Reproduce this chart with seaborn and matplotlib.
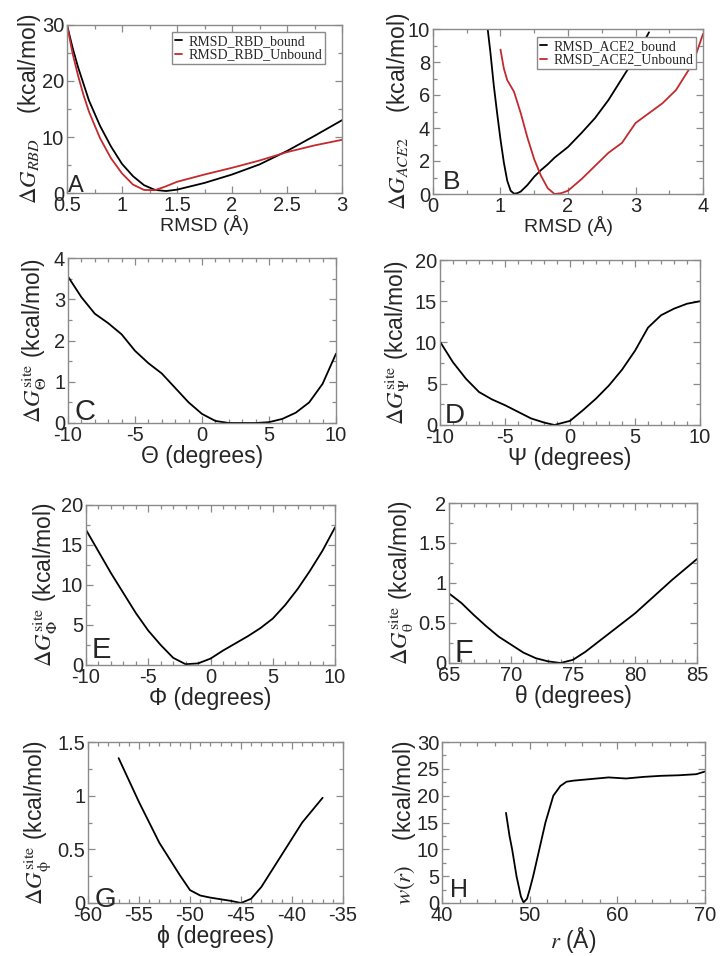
import numpy as np
import pandas as pd
import matplotlib
matplotlib.use("Agg")
import matplotlib.pyplot as plt
import seaborn as sns
from matplotlib.ticker import MultipleLocator, FormatStrFormatter

sns.set_style("ticks")
plt.rcParams['font.family'] = ['Liberation Sans', 'DejaVu Sans']
plt.rcParams['mathtext.fontset'] = 'stix'
plt.rcParams['axes.unicode_minus'] = False

# ---------------- data ----------------
a_x_bound = [0.5, 0.55, 0.6, 0.65, 0.7, 0.8, 0.9, 1.0, 1.1, 1.2, 1.3, 1.4, 1.5, 1.75, 2.0, 2.25, 2.5, 2.75, 3.0]
a_bound = [30, 26, 22.5, 19.5, 16.5, 12, 8.3, 5.2, 3.0, 1.4, 0.55, 0.35, 0.6, 1.8, 3.3, 5.1, 7.5, 10.2, 13]
a_x_unbound = [0.5, 0.55, 0.6, 0.65, 0.7, 0.8, 0.9, 1.0, 1.1, 1.2, 1.3, 1.4, 1.5, 1.75, 2.0, 2.25, 2.5, 2.75, 3.0]
a_unbound = [30, 25, 21, 17.5, 14.5, 9.8, 6.2, 3.5, 1.5, 0.55, 0.5, 1.2, 2.0, 3.3, 4.5, 5.8, 7.3, 8.5, 9.5]

b_x_bound = [0.81, 0.85, 0.9, 0.95, 1.0, 1.05, 1.1, 1.15, 1.2, 1.25, 1.3, 1.4, 1.5, 1.6, 1.7, 1.8, 2.0, 2.2, 2.4, 2.6, 2.8, 3.0, 3.2]
b_bound = [10, 8.6, 6.6, 4.9, 3.3, 1.9, 0.8, 0.2, 0.02, 0.05, 0.15, 0.55, 1.05, 1.45, 1.8, 2.2, 2.85, 3.7, 4.6, 5.7, 7.0, 8.3, 9.8]
b_x_unbound = [1.0, 1.05, 1.1, 1.2, 1.3, 1.4, 1.5, 1.6, 1.7, 1.8, 1.9, 2.0, 2.2, 2.4, 2.6, 2.8, 3.0, 3.2, 3.4, 3.6, 3.8, 3.9, 4.0]
b_unbound = [8.75, 7.6, 6.9, 6.2, 4.9, 3.4, 2.1, 1.1, 0.35, 0.0, 0.05, 0.2, 0.9, 1.7, 2.5, 3.1, 4.3, 4.9, 5.5, 6.3, 7.6, 8.5, 9.7]

c_x = [-10, -9, -8, -7, -6, -5, -4, -3, -2, -1, 0, 1, 2, 3, 4, 5, 6, 7, 8, 9, 10]
c_y = [3.55, 3.05, 2.65, 2.42, 2.15, 1.75, 1.45, 1.2, 0.85, 0.5, 0.22, 0.05, 0.0, 0.0, 0.0, 0.02, 0.1, 0.25, 0.5, 0.95, 1.68]

d_x = [-10, -9, -8, -7, -6, -5, -4, -3, -2, -1.2, 0, 1, 2, 3, 4, 5, 6, 7, 8, 9, 10]
d_y = [10.1, 7.6, 5.6, 4.0, 3.1, 2.4, 1.6, 0.8, 0.3, 0.0, 0.5, 1.8, 3.2, 4.8, 6.7, 9.0, 11.8, 13.3, 14.1, 14.7, 15.0]

e_x = [-10, -9, -8, -7, -6, -5, -4, -3, -2, -1, 0, 1, 2, 3, 4, 5, 6, 7, 8, 9, 10]
e_y = [16.9, 14.2, 11.5, 9.0, 6.5, 4.3, 2.5, 0.9, 0.1, 0.2, 0.8, 1.8, 2.7, 3.6, 4.6, 5.8, 7.5, 9.5, 11.8, 14.3, 17.2]

f_x = [65, 66, 67, 68, 69, 70, 71, 72, 73, 74, 75, 76, 77, 78, 79, 80, 81, 82, 83, 84, 85]
f_y = [0.87, 0.75, 0.6, 0.46, 0.33, 0.23, 0.13, 0.06, 0.02, 0.0, 0.04, 0.14, 0.26, 0.38, 0.5, 0.62, 0.76, 0.9, 1.04, 1.17, 1.3]

g_x = [-57, -55, -53, -51, -50, -49, -48, -46, -45, -44, -43, -42, -41, -40, -39, -37]
g_y = [1.35, 0.94, 0.56, 0.26, 0.12, 0.07, 0.05, 0.02, 0.0, 0.04, 0.15, 0.3, 0.45, 0.6, 0.75, 0.98]

h_x = [47.3, 47.7, 48.0, 48.5, 49.0, 49.3, 49.7, 50.0, 50.4, 51.1, 51.8, 52.7, 53.5, 54.2, 55, 57, 59, 61, 63, 65, 67, 69, 70]
h_y = [16.8, 12.5, 10, 5, 1.2, 0.1, 0.8, 2.5, 5, 10, 15, 20, 21.8, 22.6, 22.8, 23.1, 23.4, 23.2, 23.5, 23.7, 23.8, 24.0, 24.5]

RED = '#c22a2e'
GREY = '#8a8a8a'

W, H = 721, 956
fig = plt.figure(figsize=(W / 100, H / 100), dpi=100)


def make_ax(l, t, r, b):
    return fig.add_axes([l / W, 1 - b / H, (r - l) / W, (b - t) / H])


def style(ax, xlim, ylim, xmaj, xmin, ymaj, ymin, xlabel, ylabel, ylab_px, xfs, tfs=14.5):
    ax.set_xlim(*xlim)
    ax.set_ylim(*ylim)
    ax.xaxis.set_major_locator(MultipleLocator(xmaj))
    ax.xaxis.set_minor_locator(MultipleLocator(xmin))
    ax.yaxis.set_major_locator(MultipleLocator(ymaj))
    ax.yaxis.set_minor_locator(MultipleLocator(ymin))
    ax.xaxis.set_major_formatter(FormatStrFormatter('%g'))
    ax.yaxis.set_major_formatter(FormatStrFormatter('%g'))
    ax.tick_params(which='both', direction='in', top=True, right=True, color=GREY, width=0.9)
    ax.tick_params(which='major', length=5, labelsize=tfs, pad=2)
    ax.tick_params(which='minor', length=3)
    for s in ax.spines.values():
        s.set_color(GREY)
        s.set_linewidth(1.0)
    ax.set_xlabel(xlabel, fontsize=xfs, labelpad=0)
    ax.set_ylabel(ylabel, fontsize=16.5)
    l = ax.get_position().x0 * W
    w = ax.get_position().width * W
    ax.yaxis.set_label_coords((ylab_px - l) / w, 0.5)
    ax.yaxis.label.set_verticalalignment('center')


def letter(ax, s, dx, dy, fs):
    ax.annotate(s, xy=(0, 0), xycoords='axes fraction', xytext=(dx * 0.72, dy * 0.72),
                textcoords='offset points', ha='left', va='baseline', fontsize=fs)


def leg(ax, x, y):
    ax.legend(loc='upper left', bbox_to_anchor=(x / W, 1 - y / H), bbox_transform=fig.transFigure,
              borderaxespad=0, frameon=True, fancybox=False, edgecolor=GREY, framealpha=1,
              prop={'family': 'Liberation Serif', 'size': 10}, handlelength=0.5,
              handletextpad=0.5, labelspacing=0.05, borderpad=0.2)


# A
ax = make_ax(67, 25, 342, 193)
sns.lineplot(x=a_x_bound, y=a_bound, ax=ax, color='black', lw=1.3, label='RMSD_RBD_bound')
sns.lineplot(x=a_x_unbound, y=a_unbound, ax=ax, color=RED, lw=1.3, label='RMSD_RBD_Unbound')
style(ax, (0.5, 3), (0, 30), 0.5, 0.25, 10, 5, 'RMSD (Å)', r'$\Delta G_{RBD}$    (kcal/mol)', 30, 14)
leg(ax, 172, 32)
letter(ax, 'A', 1, 1, 17)

# B
ax = make_ax(433, 29, 703, 194)
sns.lineplot(x=b_x_bound, y=b_bound, ax=ax, color='black', lw=1.3, label='RMSD_ACE2_bound')
sns.lineplot(x=b_x_unbound, y=b_unbound, ax=ax, color=RED, lw=1.3, label='RMSD_ACE2_Unbound')
style(ax, (0, 4), (0, 10), 1, 0.5, 2, 1, 'RMSD (Å)', r'$\Delta G_{ACE2}$    (kcal/mol)', 398, 14)
leg(ax, 537, 37)
letter(ax, 'B', 10, 5, 19)

# C
ax = make_ax(68, 258, 336, 423)
sns.lineplot(x=c_x, y=c_y, ax=ax, color='black', lw=1.3)
style(ax, (-10, 10), (0, 4), 5, 1, 1, 0.5, 'Θ (degrees)', r'$\Delta G_{\mathrm{\Theta}}^{\rm site}$ (kcal/mol)', 34, 16.5)
letter(ax, 'C', 7, 3, 21)

# D
ax = make_ax(440, 260, 700, 425)
sns.lineplot(x=d_x, y=d_y, ax=ax, color='black', lw=1.3)
style(ax, (-10, 10), (0, 20), 5, 1, 5, 2.5, 'Ψ (degrees)', r'$\Delta G_{\mathrm{\Psi}}^{\rm site}$ (kcal/mol)', 397, 16.5)
letter(ax, 'D', 5, 2, 20)

# E
ax = make_ax(86, 505, 335, 665)
sns.lineplot(x=e_x, y=e_y, ax=ax, color='black', lw=1.3)
style(ax, (-10, 10), (0, 20), 5, 1, 5, 2.5, 'Φ (degrees)', r'$\Delta G_{\mathrm{\Phi}}^{\rm site}$ (kcal/mol)', 45, 16.5)
letter(ax, 'E', 6, 7, 21)

# F
ax = make_ax(449, 503, 697, 663)
sns.lineplot(x=f_x, y=f_y, ax=ax, color='black', lw=1.3)
style(ax, (65, 85), (0, 2), 5, 1, 0.5, 0.25, 'θ (degrees)', r'$\Delta G_{\mathrm{\theta}}^{\rm site}$ (kcal/mol)', 401, 16.5)
letter(ax, 'F', 6, 1, 22)

# G
ax = make_ax(88, 742, 343, 903)
sns.lineplot(x=g_x, y=g_y, ax=ax, color='black', lw=1.3)
style(ax, (-60, -35), (0, 1.5), 5, 1, 0.5, 0.25, 'ϕ (degrees)', r'$\Delta G_{\mathrm{\phi}}^{\rm site}$ (kcal/mol)', 37, 16.5)
letter(ax, 'G', 7, -4, 20)

# H
ax = make_ax(442, 742, 705, 903)
sns.lineplot(x=h_x, y=h_y, ax=ax, color='black', lw=1.3)
style(ax, (40, 70), (0, 30), 10, 2, 5, 2.5, r'$r$ (Å)', r'$w(r)$    (kcal/mol)', 404, 16.5)
letter(ax, 'H', 8, 6, 18)

fig.savefig('out.png', dpi=100)
